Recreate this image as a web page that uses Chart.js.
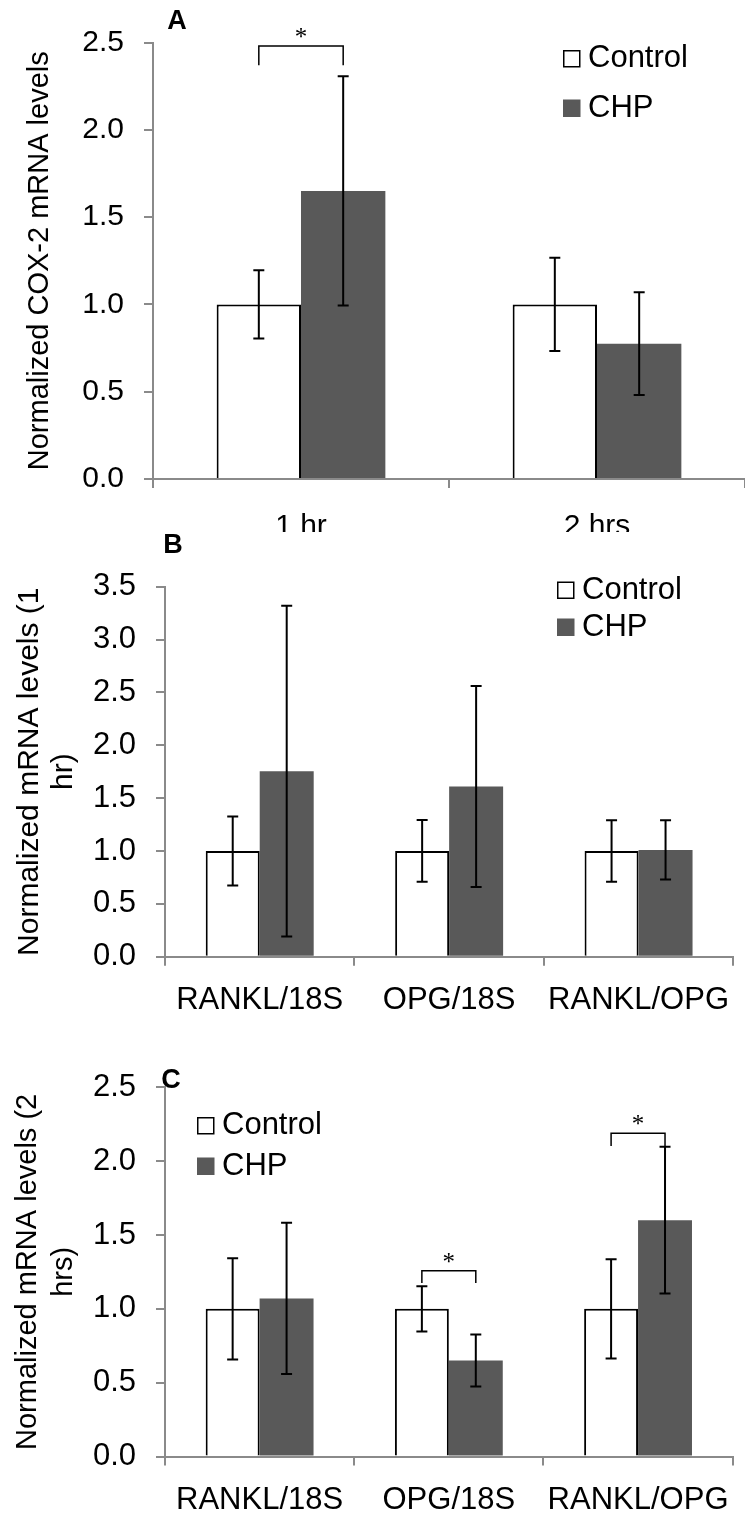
<!DOCTYPE html>
<html lang="en">
<head>
  <meta charset="UTF-8" />
  <title>Normalized mRNA levels</title>
  <script src="https://cdn.jsdelivr.net/npm/chart.js"></script>
  <style>
    body {
      margin: 0;
      background: #fff;
      width: 745px;
      height: 1519px;
      overflow: hidden;
      position: relative;
    }

    .panel {
      position: absolute;
      left: 0;
      width: 745px;
      overflow: hidden;
    }

    .panel .inner {
      position: relative;
      width: 745px;
    }
  </style>
</head>
<body>

  <div class="panel" style="top:0;height:532px"><div class="inner" style="height:560px"><canvas id="chartA"></canvas></div></div>
  <div class="panel" style="top:532px;height:498px"><div class="inner" style="height:498px"><canvas id="chartB"></canvas></div></div>
  <div class="panel" style="top:1030px;height:489px"><div class="inner" style="height:489px"><canvas id="chartC"></canvas></div></div>

  <script>
    const seriesNames = ['Control', 'CHP'];

    // A - COX-2
    const catsA = ['1 hr', '2 hrs'];
    const controlA = [1.0, 1.0];
    const controlErrA = [0.195, 0.267];
    const chpA = [1.65, 0.775];
    const chpErrA = [0.657, 0.294];
    const sigA = [[0, 2.48, 2.37]]; // [category, bracket top, leg end]

    // B - 1 hr
    const catsBC = ['RANKL/18S', 'OPG/18S', 'RANKL/OPG'];
    const controlB = [1.0, 1.0, 1.0];
    const controlErrB = [0.327, 0.292, 0.29];
    const chpB = [1.755, 1.61, 1.01];
    const chpErrB = [1.565, 0.95, 0.28];

    // C - 2 hrs
    const controlC = [1.0, 1.0, 1.0];
    const controlErrC = [0.343, 0.153, 0.336];
    const chpC = [1.07, 0.65, 1.6];
    const chpErrC = [0.512, 0.176, 0.497];
    const sigC = [[1, 1.257, 1.174], [2, 2.189, 2.103]];

    const FONT = '"Liberation Sans", Arial, sans-serif';
    const axisGray = '#8a8a8a';
    Chart.defaults.font.family = FONT;
    Chart.defaults.color = '#000';

    const errorBars = {
      id: 'errorBars',
      afterDatasetsDraw(chart) {
        const { ctx } = chart;
        const y = chart.scales.y;
        ctx.save();
        ctx.strokeStyle = '#000';
        ctx.lineWidth = 2;
        chart.data.datasets.forEach((ds, i) => {
          chart.getDatasetMeta(i).data.forEach((bar, j) => {
            const top = y.getPixelForValue(ds.data[j] + ds.errors[j]);
            const bot = y.getPixelForValue(ds.data[j] - ds.errors[j]);
            ctx.beginPath();
            ctx.moveTo(bar.x, top); ctx.lineTo(bar.x, bot);
            ctx.moveTo(bar.x - 5.5, top); ctx.lineTo(bar.x + 5.5, top);
            ctx.moveTo(bar.x - 5.5, bot); ctx.lineTo(bar.x + 5.5, bot);
            ctx.stroke();
          });
        });
        ctx.restore();
      }
    };

    // panel letter, legend and significance brackets
    const decor = {
      id: 'decor',
      afterDraw(chart, args, o) {
        const { ctx } = chart;
        const y = chart.scales.y;
        ctx.save();
        ctx.fillStyle = '#000';
        ctx.textBaseline = 'middle';
        ctx.textAlign = 'center';
        ctx.font = 'bold 27px ' + FONT;
        ctx.fillText(o.letter, o.letterX, o.letterY);

        ctx.textAlign = 'left';
        ctx.font = '31px ' + FONT;
        chart.data.datasets.forEach((ds, i) => {
          const cy = o.legendY + i * o.legendGap;
          ctx.fillStyle = ds.backgroundColor;
          ctx.fillRect(o.legendX, cy - 8.5, 17.5, 17.5);
          if (ds.borderWidth) {
            ctx.strokeStyle = '#000';
            ctx.lineWidth = 1.5;
            ctx.strokeRect(o.legendX + 0.75, cy - 7.75, 16, 16);
          }
          ctx.fillStyle = '#000';
          ctx.fillText(ds.label, o.legendX + 25, cy);
        });

        ctx.strokeStyle = '#000';
        ctx.lineWidth = 1.5;
        ctx.textAlign = 'center';
        ctx.textBaseline = 'alphabetic';
        ctx.font = '25px "Liberation Serif", serif';
        (o.sig || []).forEach(([idx, topV, legV]) => {
          const a = chart.getDatasetMeta(0).data[idx].x;
          const b = chart.getDatasetMeta(1).data[idx].x;
          const yt = y.getPixelForValue(topV);
          const yl = y.getPixelForValue(legV);
          ctx.beginPath();
          ctx.moveTo(a, yl); ctx.lineTo(a, yt); ctx.lineTo(b, yt); ctx.lineTo(b, yl);
          ctx.stroke();
          ctx.fillText('*', (a + b) / 2, yt - 1);
        });
        ctx.restore();
      }
    };

    function makeChart(id, cfg) {
      return new Chart(document.getElementById(id), {
        type: 'bar',
        data: {
          labels: cfg.cats,
          datasets: [
            { label: seriesNames[0], data: cfg.control, errors: cfg.controlErr, backgroundColor: '#ffffff', borderColor: '#000', borderWidth: 2 },
            { label: seriesNames[1], data: cfg.chp, errors: cfg.chpErr, backgroundColor: '#595959', borderWidth: 0 }
          ]
        },
        options: {
          responsive: true,
          maintainAspectRatio: false,
          animation: false,
          layout: { padding: { top: cfg.top, right: 0, bottom: 0, left: 0 } },
          datasets: { bar: { barPercentage: 1, categoryPercentage: 0.57 } },
          plugins: {
            legend: { display: false },
            tooltip: { enabled: false },
            decor: cfg.decor
          },
          scales: {
            x: {
              z: 1,
              grid: { drawOnChartArea: false, tickLength: 9, color: axisGray, lineWidth: 2 },
              border: { color: axisGray, width: 2 },
              ticks: { font: { size: cfg.xFont }, padding: cfg.xPad, maxRotation: 0, autoSkip: false },
              afterFit: s => { s.height = cfg.xHeight; }
            },
            y: {
              min: 0,
              max: cfg.yMax,
              grid: { drawOnChartArea: false, tickLength: 9, color: axisGray, lineWidth: 2 },
              border: { color: axisGray, width: 2 },
              ticks: { stepSize: 0.5, font: { size: cfg.xFont }, padding: 20, callback: v => v.toFixed(1) },
              title: {
                display: true,
                text: cfg.yTitle,
                font: { size: cfg.titleSize, lineHeight: cfg.titleLH },
                padding: { top: cfg.titlePad, bottom: 0 }
              },
              afterFit: s => { s.width = cfg.yWidth; }
            }
          }
        },
        plugins: [errorBars, decor]
      });
    }

    makeChart('chartA', {
      cats: catsA, control: controlA, controlErr: controlErrA, chp: chpA, chpErr: chpErrA,
      yMax: 2.5, top: 42.5, xHeight: 81, yWidth: 153, xFont: 30, xPad: 21,
      yTitle: 'Normalized COX-2 mRNA levels', titleSize: 29, titleLH: 1.2, titlePad: 23,
      decor: { letter: 'A', letterX: 177, letterY: 22, legendX: 563, legendY: 58.5, legendGap: 49.5, sig: sigA }
    });

    makeChart('chartB', {
      cats: catsBC, control: controlB, controlErr: controlErrB, chp: chpB, chpErr: chpErrB,
      yMax: 3.5, top: 54.7, xHeight: 73.3, yWidth: 165, xFont: 31, xPad: 16,
      yTitle: ['Normalized mRNA levels (1', 'hr)'], titleSize: 30, titleLH: 1.15, titlePad: 12,
      decor: { letter: 'B', letterX: 173, letterY: 13.5, legendX: 557, legendY: 58, legendGap: 37 }
    });

    makeChart('chartC', {
      cats: catsBC, control: controlC, controlErr: controlErrC, chp: chpC, chpErr: chpErrC,
      yMax: 2.5, top: 57.3, xHeight: 62.5, yWidth: 165, xFont: 31, xPad: 16.5,
      yTitle: ['Normalized mRNA levels (2', 'hrs)'], titleSize: 29, titleLH: 1.25, titlePad: 10,
      decor: { letter: 'C', letterX: 171, letterY: 51, legendX: 197, legendY: 95.5, legendGap: 40.5, sig: sigC }
    });
  </script>
</body>
</html>
